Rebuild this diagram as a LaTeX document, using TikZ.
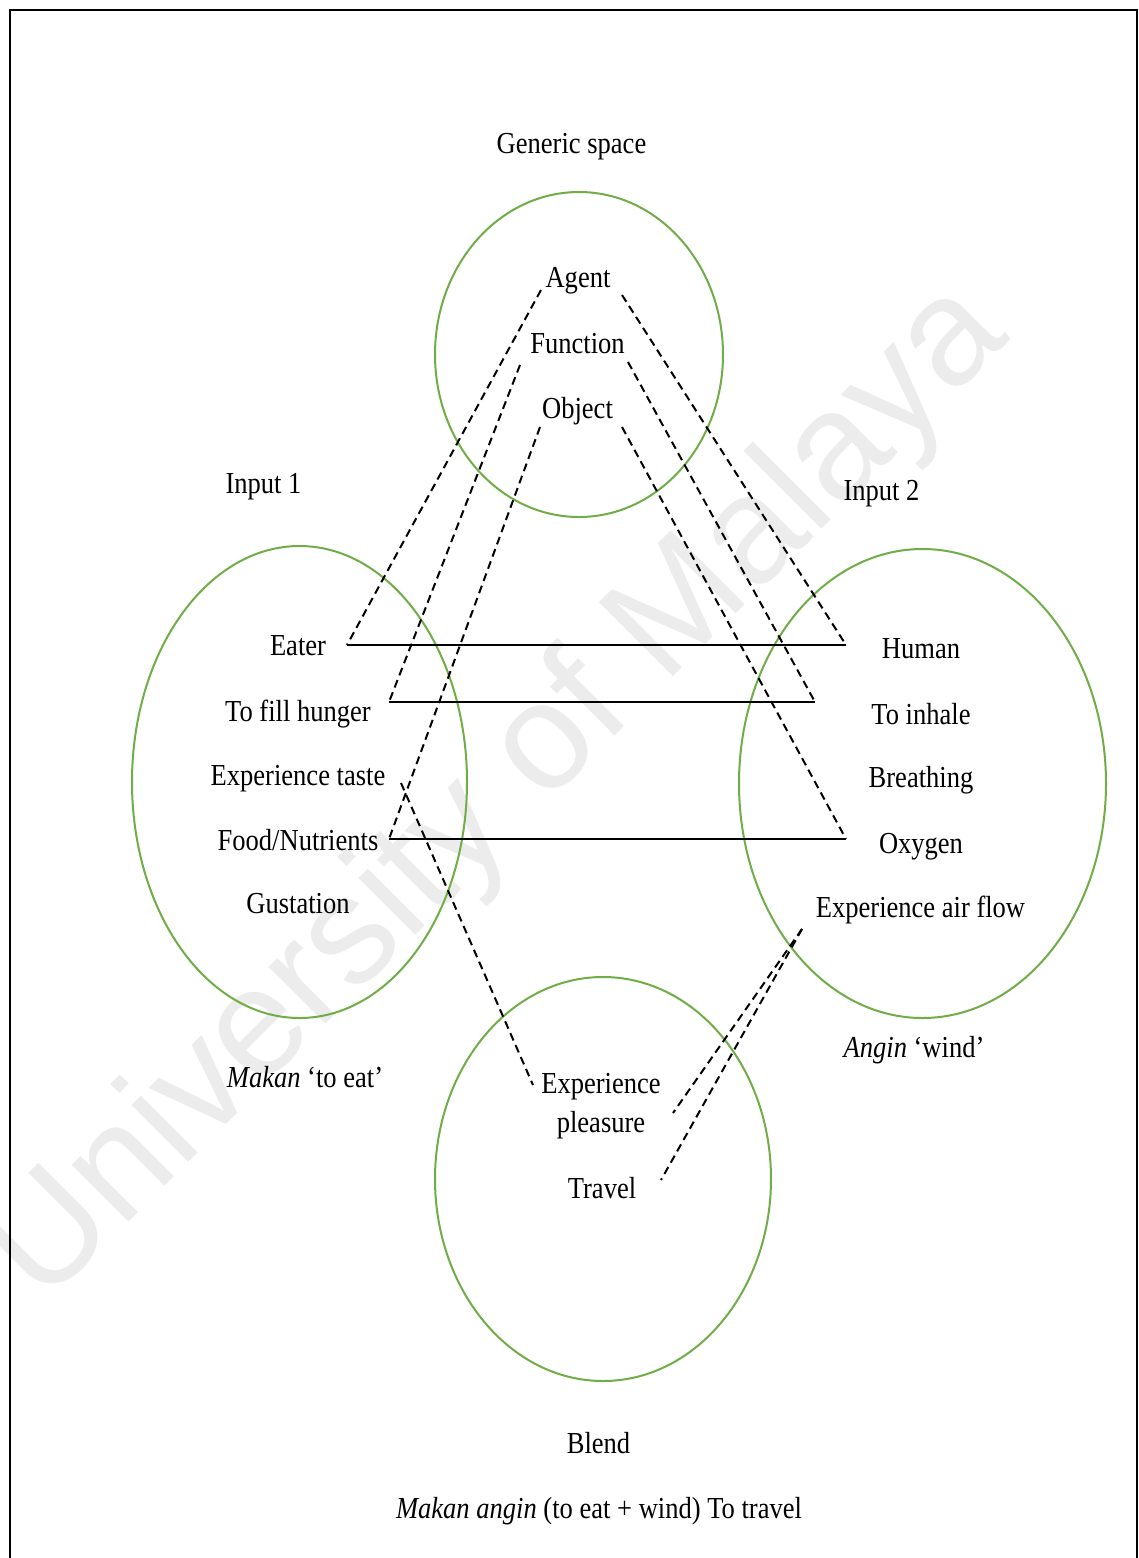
\documentclass[tikz,border=0pt]{standalone}
\usepackage{fontspec}
\setmainfont[FakeStretch=0.87]{Liberation Serif}
\newfontfamily\wmfont{Liberation Sans}
\usetikzlibrary{shapes.geometric}
\definecolor{spacegreen}{RGB}{112,173,71}
\definecolor{wmgray}{RGB}{236,236,236}
\begin{document}
\begin{tikzpicture}[x=1pt,y=-1pt,
  lbl/.style={anchor=base, inner sep=0pt, font=\fontsize{30.5}{36}\selectfont},
  spacebox/.style={ellipse, draw=spacegreen, line width=2pt, inner sep=0pt},
  mapline/.style={draw=black, line width=2.2pt},
  link/.style={draw=black, line width=2pt, dash pattern=on 8pt off 5pt},
]
\useasboundingbox (0,0) rectangle (1138,1558);
\fill[white] (0,0) rectangle (1138,1558);

% watermark
\node[rotate=45, text=wmgray, font=\wmfont\fontsize{152}{160}\selectfont, inner sep=0pt]
  (wm) at (500,795) {University of Malaya};

% frame
\draw[line width=2pt] (10,1565) -- (10,10) -- (1137,10) -- (1137,1565);

% mental spaces
\node[spacebox, minimum width=288pt, minimum height=325pt] (generic) at (579,354.5) {};
\node[spacebox, minimum width=335pt, minimum height=472pt] (input1) at (299.5,782) {};
\node[spacebox, minimum width=367pt, minimum height=469pt] (input2) at (922.5,783.5) {};
\node[spacebox, minimum width=336pt, minimum height=404pt] (blend) at (603,1179) {};

% titles
\node[lbl] (tgeneric) at (571.5,153) {Generic space};
\node[lbl] (tin1) at (263.5,493) {Input 1};
\node[lbl] (tin2) at (881.5,500) {Input 2};
\node[lbl] (tin1name) at (305,1087) {\textit{Makan} ‘to eat’};
\node[lbl] (tin2name) at (914,1057) {\textit{Angin} ‘wind’};
\node[lbl] (tblend) at (598.5,1453) {Blend};
\node[lbl] (tblendname) at (599,1518) {\textit{Makan angin} (to eat + wind) To travel};

% generic space elements
\node[lbl] (agent) at (578,287) {Agent};
\node[lbl] (function) at (577.5,353) {Function};
\node[lbl] (object) at (577.5,418) {Object};

% input 1 elements
\node[lbl] (eater) at (298,655) {Eater};
\node[lbl] (hunger) at (298,721) {To fill hunger};
\node[lbl] (taste) at (298,785) {Experience taste};
\node[lbl] (food) at (298,850) {Food/Nutrients};
\node[lbl] (gustation) at (298,913) {Gustation};

% input 2 elements
\node[lbl] (human) at (921,658) {Human};
\node[lbl] (inhale) at (921,724) {To inhale};
\node[lbl] (breathing) at (921,787) {Breathing};
\node[lbl] (oxygen) at (921,853) {Oxygen};
\node[lbl] (airflow) at (920.5,917) {Experience air flow};

% blend elements
\node[lbl] (pleasure1) at (601,1093) {Experience};
\node[lbl] (pleasure2) at (601,1132) {pleasure};
\node[lbl] (travel) at (602,1198) {Travel};

% connector end points
\coordinate (agentL) at (541,290);
\coordinate (agentR) at (622,295);
\coordinate (functionL) at (520,365);
\coordinate (functionR) at (628,362);
\coordinate (objectL) at (540,427);
\coordinate (objectR) at (622,427);
\coordinate (m1L) at (347,645);
\coordinate (m1R) at (846,645);
\coordinate (m2L) at (389,702);
\coordinate (m2R) at (815,702);
\coordinate (m3L) at (389,839);
\coordinate (m3R) at (846,839);
\coordinate (tasteR) at (401,783);
\coordinate (pleasureL) at (533,1085);
\coordinate (airflowL) at (802,929);
\coordinate (pleasureR) at (673,1113);
\coordinate (travelR) at (661,1180);

% cross-space mappings
\draw[mapline] (m1L) -- (m1R);
\draw[mapline] (m2L) -- (m2R);
\draw[mapline] (m3L) -- (m3R);

% generic space to inputs
\draw[link] (agentL) -- (m1L);
\draw[link] (agentR) -- (m1R);
\draw[link] (functionL) -- (m2L);
\draw[link] (functionR) -- (m2R);
\draw[link] (objectL) -- (m3L);
\draw[link] (objectR) -- (m3R);

% inputs to blend
\draw[link] (tasteR) -- (pleasureL);
\draw[link] (airflowL) -- (pleasureR);
\draw[link] (airflowL) -- (travelR);
\end{tikzpicture}
\end{document}
